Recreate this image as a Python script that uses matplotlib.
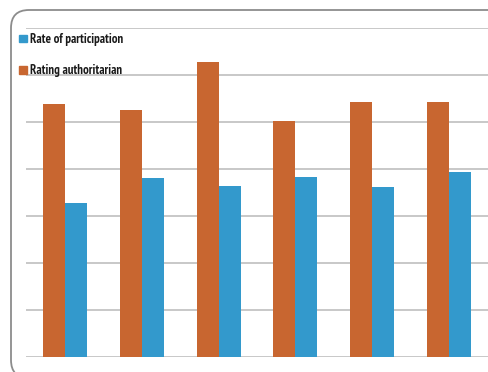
import numpy as np
import matplotlib.pyplot as plt
from matplotlib.patches import FancyBboxPatch, Rectangle

groups = ["1", "2", "3", "4", "5", "6"]
authoritarian = [5.39, 5.26, 6.28, 5.02, 5.42, 5.42]
participation = [3.27, 3.80, 3.64, 3.84, 3.62, 3.93]
labels = ["Rate of participation", "Rating authoritarian"]

orange = "#C86630"
blue = "#3399CC"

fig = plt.figure(figsize=(4.89, 3.72), dpi=100)
W, H = 489.0, 372.0

# rounded outer frame, runs off the right and bottom edges
frame = FancyBboxPatch((11 / W, -6 / H), 1.2, (362 + 6) / H,
                       boxstyle="round,pad=0,rounding_size=%f" % (18 / W),
                       mutation_aspect=W / H,
                       transform=fig.transFigure, fill=False,
                       edgecolor="#8c8c8c", linewidth=1.3)
fig.patches.append(frame)

ax = fig.add_axes([26 / W, 15 / H, 1 - 26 / W, (357 - 28) / H])
x = np.arange(len(groups))
w = 0.286
ax.bar(x - w / 2, authoritarian, w, color=orange, zorder=3)
ax.bar(x + w / 2, participation, w, color=blue, zorder=3)

ax.set_ylim(0, 7)
ax.set_xlim(-0.508, 5.52)
ax.set_yticks(np.arange(0, 8))
ax.yaxis.grid(True, color="#c4c4c4", linewidth=1.3, zorder=0)
ax.set_xticks([])
ax.tick_params(left=False, labelleft=False)
for s in ax.spines.values():
    s.set_visible(False)
ax.patch.set_alpha(0)

# legend entries
fam = ["PT Sans Narrow", "DejaVu Sans"]
for ytop, base, col, lab in [(35, 42.5, blue, labels[0]), (66.3, 74, orange, labels[1])]:
    fig.patches.append(Rectangle((19.3 / W, 1 - (ytop + 7.4) / H), 7.4 / W, 7.4 / H,
                                 transform=fig.transFigure, color=col))
    fig.text(30 / W, 1 - base / H, lab, fontsize=9.2, fontweight="bold",
             family=fam, va="baseline", ha="left", color="#1a1a1a")

fig.savefig("out.png", dpi=100)
